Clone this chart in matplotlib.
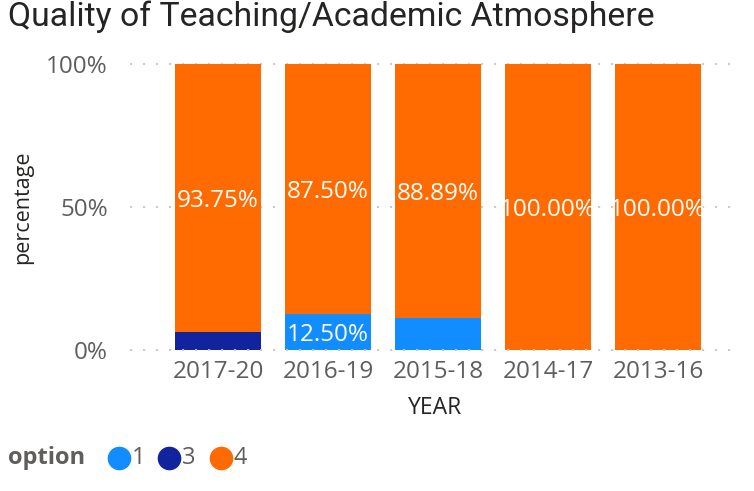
import matplotlib
matplotlib.use("Agg")
import matplotlib.pyplot as plt
from matplotlib.lines import Line2D
import numpy as np

years = ["2017-20", "2016-19", "2015-18", "2014-17", "2013-16"]
options = ["1", "3", "4"]
opt1 = [0.0, 12.50, 11.11, 0.0, 0.0]
opt3 = [6.25, 0.0, 0.0, 0.0, 0.0]
opt4 = [93.75, 87.50, 88.89, 100.0, 100.0]
yticks = [0, 50, 100]
ytick_labels = ["0%", "50%", "100%"]

colors = {"1": "#118DFF", "3": "#12239E", "4": "#FF6B00"}
series = {"1": opt1, "3": opt3, "4": opt4}

plt.rcParams['font.family'] = ['Open Sans', 'DejaVu Sans']
W, H = 754, 491
fig = plt.figure(figsize=(W / 100, H / 100), dpi=100)
ax = fig.add_axes([130 / W, (H - 350) / H, 610 / W, 286 / H])

x = np.arange(len(years))
bw = 0.78
bottom = np.zeros(len(years))
for opt in options:
    vals = np.array(series[opt])
    ax.bar(x, vals, bw, bottom=bottom, color=colors[opt], zorder=2)
    for xi, v, b in zip(x, vals, bottom):
        if v >= 12:
            ax.text(xi, b + v / 2 - 1, f"{v:.2f}%", ha="center", va="center",
                    color="white", fontsize=17.5, zorder=4)
    bottom += vals

ax.set_ylim(0, 100)
ax.set_xlim(-0.8, 4.745)
for yt in yticks:
    ax.axhline(yt, color="#C8C6C4", lw=1.3, linestyle=(0, (1.2, 6)), zorder=1 if yt else 3,
               clip_on=False)
for s in ax.spines.values():
    s.set_visible(False)
ax.set_yticks(yticks)
ax.set_yticklabels(ytick_labels)
ax.set_xticks(x)
ax.set_xticklabels(years)
ax.tick_params(axis="both", length=0, colors="#605E5C", labelsize=17.5)
ax.tick_params(axis="y", pad=16)
ax.tick_params(axis="x", pad=7)

ax.set_xlabel("YEAR", fontsize=16.5, color="#252423", labelpad=9)
ax.set_ylabel("percentage", fontsize=15.5, color="#252423", labelpad=9)

fig.text(8 / W, 1 - 17 / H, "Quality of Teaching/Academic Atmosphere",
         fontsize=24.3, color="#252423", ha="left", va="center",
         family=["Roboto", "DejaVu Sans"])

# legend
ly = 1 - 458 / H
fig.text(8 / W, ly, "option", fontsize=17, fontweight="bold", color="#605E5C",
         ha="left", va="center")
lx = [119, 169, 221]
for opt, cx in zip(options, lx):
    fig.add_artist(Line2D([cx / W], [ly], marker="o", markersize=16,
                          color=colors[opt], transform=fig.transFigure, linestyle="none"))
    fig.text((cx + 13) / W, ly, opt, fontsize=17, color="#605E5C", ha="left", va="center")

fig.savefig("out.png", dpi=100)
